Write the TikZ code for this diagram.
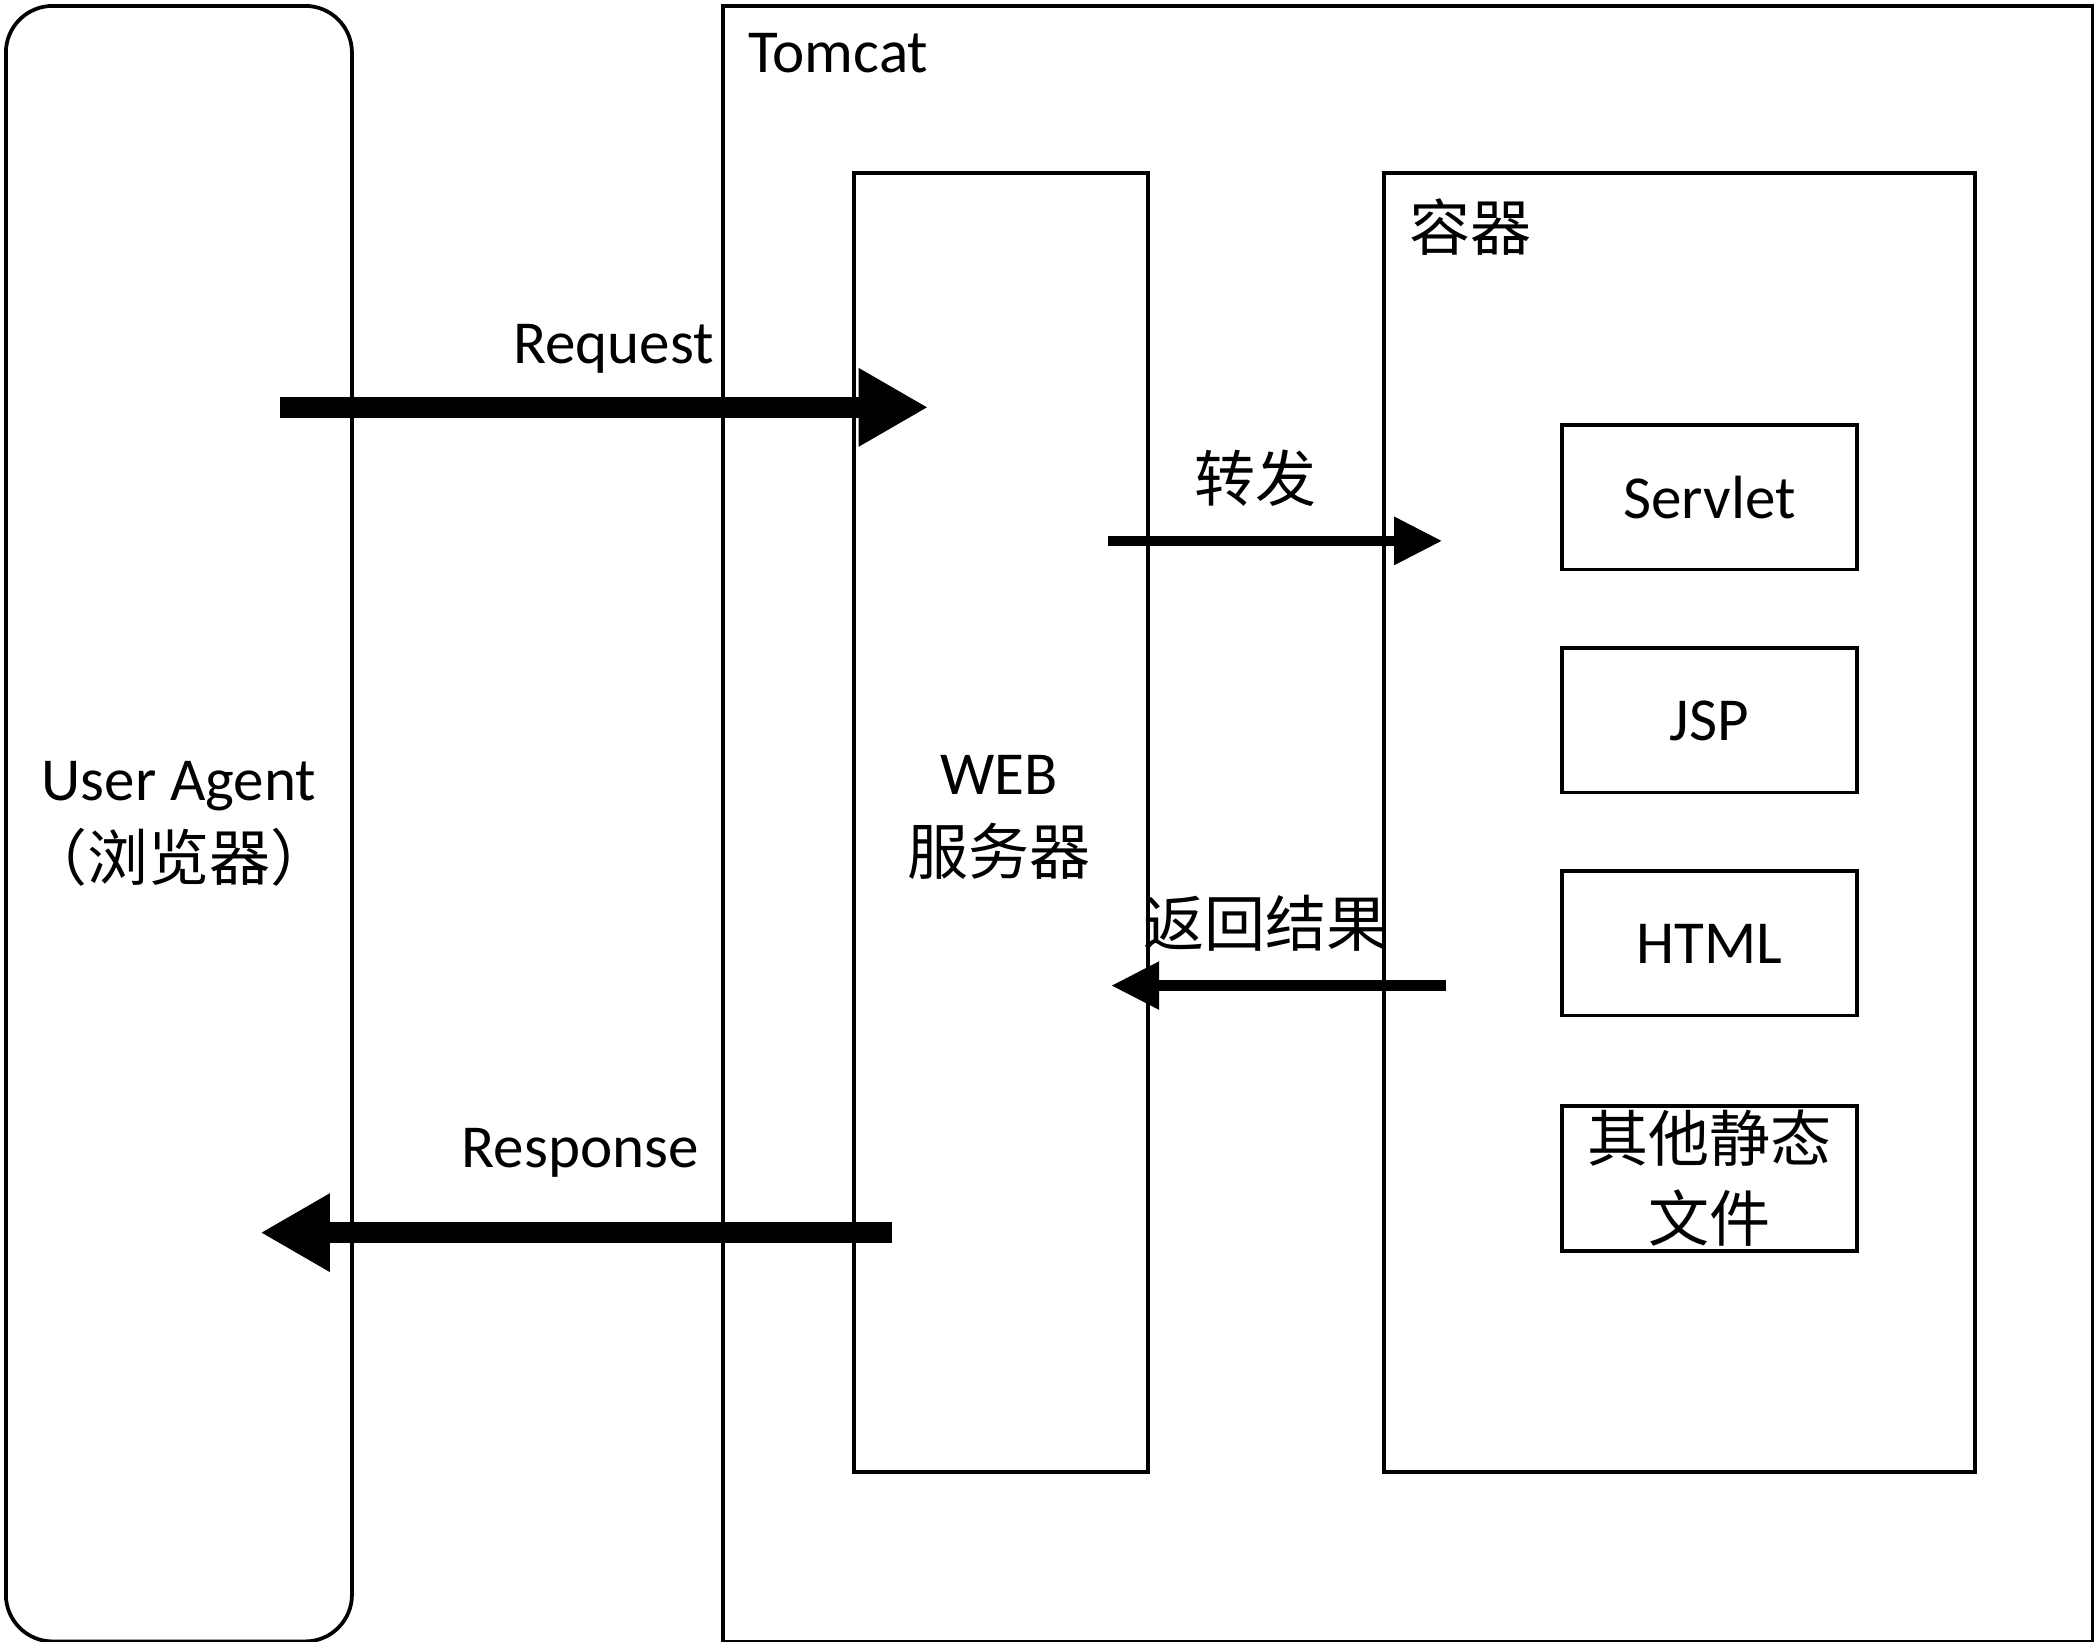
\documentclass[tikz,border=0pt]{standalone}
\usepackage{fontspec}
\setmainfont{Carlito}
\newfontfamily\cjk{Noto Sans CJK SC}
\usetikzlibrary{arrows.meta}

\begin{document}
\begin{tikzpicture}[x=0.01cm,y=-0.01cm,font=\fontsize{13}{17}\selectfont,
    box/.style={draw, line width=0.8pt, anchor=north west, inner sep=0pt},
    item/.style={box, minimum width=2.21cm, minimum height=1.08cm, align=center},
    bigarrow/.style={line width=0.16cm, -{Triangle[length=0.52cm,width=0.55cm]}},
    smallarrow/.style={line width=0.08cm, -{Triangle[length=0.36cm,width=0.34cm]}}]

    \useasboundingbox (0,0) rectangle (1568,1229);

    \node[box, rounded corners=0.35cm, minimum width=2.59cm, minimum height=12.24cm] (agent) at (3,3) {};
    \node[align=center] at (agent.center) {User Agent\\{\cjk （浏览器）}};

    \node[box, minimum width=10.25cm, minimum height=12.24cm] (tomcat) at (540,3) {};
    \node[anchor=west] at (548,40) {Tomcat};

    \node[box, minimum width=2.2cm, minimum height=9.72cm] (web) at (638,128) {};
    \node[align=center] at (748,612) {WEB\\{\cjk 服务器}};

    \node[box, minimum width=4.42cm, minimum height=9.72cm] (container) at (1035,128) {};
    \node[anchor=west] at (1043,170) {\cjk 容器};

    \node[item] (servlet) at (1168,317) {Servlet};
    \node[item] (jsp) at (1168,484) {JSP};
    \node[item] (html) at (1168,651) {HTML};
    \node[item, font=\fontsize{13}{17}\cjk] (static) at (1168,827) {其他静态\\文件};

    \coordinate (reqA) at (210,305);
    \coordinate (reqB) at (695,305);
    \draw[bigarrow] (reqA) -- (reqB) node[midway, above=0.06cm, xshift=0.07cm] {Request};

    \coordinate (fwdA) at (830,405);
    \coordinate (fwdB) at (1080,405);
    \draw[smallarrow] (fwdA) -- (fwdB) node[midway, above=0.1cm, xshift=-0.15cm] {\cjk 转发};

    \coordinate (retA) at (1083,738);
    \coordinate (retB) at (832,738);
    \draw[smallarrow] (retA) -- (retB) node[midway, above=0.1cm, xshift=-0.1cm] {\cjk 返回结果};

    \coordinate (resA) at (668,923);
    \coordinate (resB) at (195,923);
    \draw[bigarrow] (resA) -- (resB) node[midway, above=0.22cm, xshift=0.03cm] {Response};

\end{tikzpicture}
\end{document}
